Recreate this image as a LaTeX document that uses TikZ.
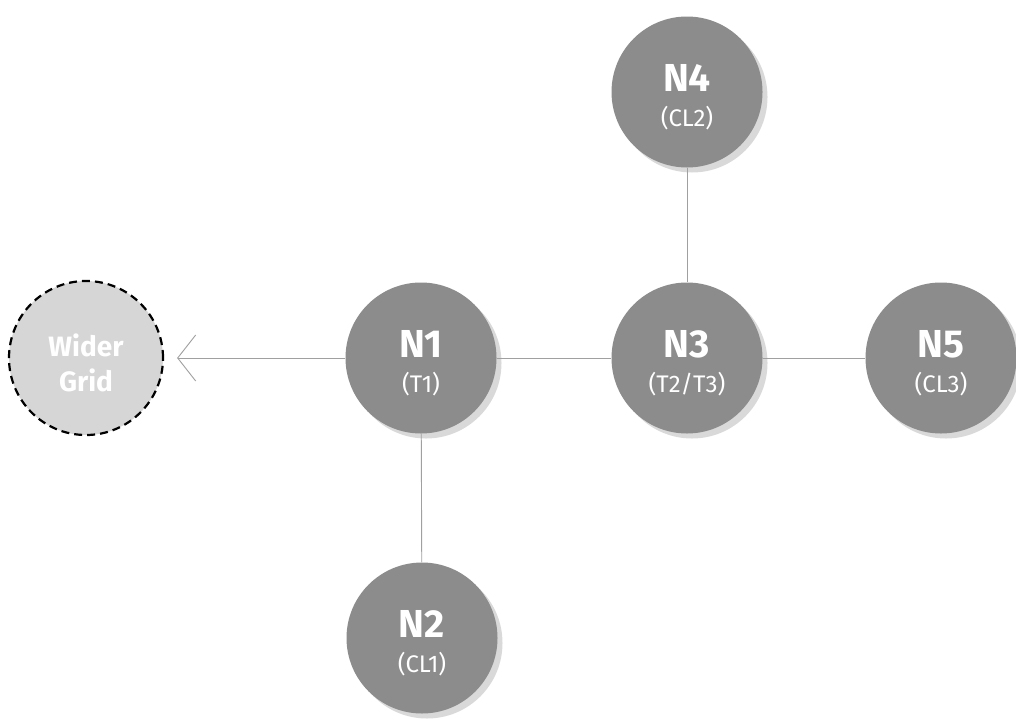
\documentclass[tikz,border=0pt]{standalone}
\usepackage{fontspec}
\setmainfont{Fira Sans}
\usetikzlibrary{arrows.meta,shadows}
\definecolor{nodegray}{HTML}{8C8C8C}
\definecolor{gridgray}{HTML}{D6D6D6}
\definecolor{linkgray}{HTML}{A0A0A0}
\newcommand{\twolines}[4]{\vbox{\vskip 10pt\baselineskip=35pt\lineskiplimit=-100pt\lineskip=0pt
  \hbox to 0pt{\hss{#1#2}\hss}\hbox to 0pt{\hss{#3#4}\hss}}}
\newcommand{\hubtext}[2]{\twolines{\fontsize{39}{39}\selectfont\bfseries}{#1}{\fontsize{24}{24}\selectfont}{#2}}
\begin{document}
\begin{tikzpicture}[x=1pt,y=-1pt,
  hub/.style={circle, fill=nodegray, minimum size=151pt, inner sep=0pt,
    text=white,
    drop shadow={shadow xshift=5pt, shadow yshift=-5pt, fill=black, opacity=0.15}},
  outer/.style={circle, fill=gridgray, draw=black, line width=2.2pt,
    dash pattern=on 8pt off 5pt, minimum size=154pt, inner sep=0pt,
    text=white},
  link/.style={draw=linkgray, line width=0.9pt},
]
\useasboundingbox (0,0) rectangle (1016,720);
\fill[white] (0,0) rectangle (1016,720);

\node[outer] (wg) at (86,358) {\twolines{\fontsize{28}{28}\selectfont\bfseries}{Wider}{\fontsize{28}{28}\selectfont\bfseries}{Grid}};
\node[hub] (n1) at (421,358) {\hubtext{N1}{(T1)}};
\node[hub] (n3) at (687,358) {\hubtext{N3}{(T2/T3)}};
\node[hub] (n5) at (941,358) {\hubtext{N5}{(CL3)}};
\node[hub] (n4) at (687,92) {\hubtext{N4}{(CL2)}};
\node[hub] (n2) at (422,638) {\hubtext{N2}{(CL1)}};

\draw[link, -{Straight Barb[length=18pt,width=46pt,line width=0.9pt]}, shorten >=13pt] (n1) -- (wg);
\draw[link] (n1) -- (n3);
\draw[link] (n3) -- (n5);
\draw[link] (n4) -- (n3);
\draw[link] (n1) -- (n2);
\end{tikzpicture}
\end{document}
